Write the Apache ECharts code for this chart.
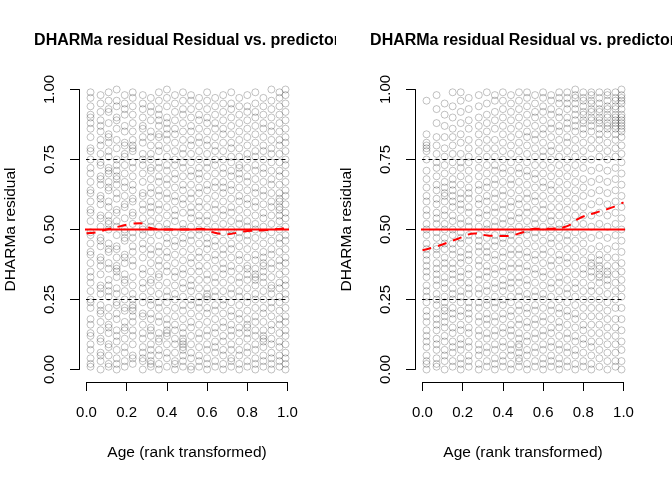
<!DOCTYPE html>
<html>
<head>
<meta charset="utf-8">
<script src="https://cdn.jsdelivr.net/npm/echarts@6/dist/echarts.min.js"></script>
<style>
  body { margin: 0; background: #fff; }
  #wrap { display: flex; width: 672px; height: 480px; }
  .panel { width: 336px; height: 480px; overflow: hidden; }
</style>
</head>
<body>
<div id="wrap"><div id="left" class="panel"></div><div id="right" class="panel"></div></div>
<script>
const titleText = 'DHARMa residual Residual vs. predictor';
const xName = 'Age (rank transformed)';
const yName = 'DHARMa residual';

// rank-transformed age values (columns of tied ranks)
const colX = [0.02, 0.07, 0.11, 0.15, 0.19, 0.23, 0.28, 0.32, 0.36, 0.40, 0.44, 0.48, 0.52,
  0.56, 0.60, 0.64, 0.68, 0.72, 0.76, 0.80, 0.84, 0.88, 0.92, 0.96, 0.99];

// residuals per column, in percent (left panel)
const leftResid = [
  [1,2,4,7,9,12,13,16,18,22,24,25,28,31,33,35,38,41,42,45,48,49,53,56,57,60,63,64,67,70,72,75,78,79,83,86,88,90,91,94,97,99],
  [0,3,5,6,10,11,14,17,20,21,23,27,29,30,34,37,39,40,44,46,47,51,54,55,59,61,62,66,68,69,73,74,77,80,82,85,87,89,92,95,98],
  [1,2,5,8,9,13,15,16,19,22,26,28,30,32,36,38,42,43,45,50,52,53,55,58,60,64,65,67,70,71,72,76,78,81,83,84,88,92,93,96,99],
  [0,2,4,7,10,12,14,18,20,23,24,27,29,33,35,36,37,40,43,44,48,51,53,56,57,61,63,66,68,69,71,73,75,79,82,86,89,90,94,96,100],
  [1,3,6,8,11,14,15,17,21,22,25,28,31,32,34,38,40,41,46,47,49,50,54,58,59,62,65,67,70,73,76,77,80,81,85,87,91,93,95,98],
  [2,4,5,9,12,14,17,19,21,22,23,25,27,30,33,37,39,42,44,47,49,52,55,56,60,61,64,66,69,72,74,78,79,80,82,85,88,91,94,97,99],
  [0,3,4,6,8,11,13,16,19,20,24,26,29,31,34,36,40,43,45,48,50,51,54,57,59,62,63,67,70,73,75,77,81,83,86,87,90,93,95,98],
  [1,2,3,5,7,9,12,14,15,18,20,23,25,28,31,32,35,38,41,43,46,49,51,53,56,58,60,63,65,68,71,72,75,77,80,83,85,89,92,94,97],
  [0,2,5,7,10,11,13,17,19,22,24,27,30,33,34,37,39,42,44,48,51,54,57,59,62,64,67,69,72,74,78,80,83,84,87,89,91,93,96,99],
  [1,4,6,9,12,13,14,16,18,21,24,26,28,31,35,37,40,42,45,47,50,52,55,58,61,63,66,68,71,73,76,79,82,84,86,88,90,94,97,100],
  [0,2,3,6,9,11,14,16,19,22,25,27,30,33,35,38,41,44,46,49,53,55,57,60,62,65,68,70,73,75,78,81,84,86,89,92,95,98],
  [1,3,5,7,8,9,10,11,13,15,18,21,23,26,29,31,34,36,39,42,45,47,50,52,56,59,61,64,66,69,72,74,77,79,82,85,88,91,93,96,99],
  [0,1,4,6,9,12,15,17,20,23,25,28,30,32,35,38,40,43,46,48,51,54,56,58,61,63,66,69,71,74,77,80,82,85,87,90,93,96,98],
  [1,3,5,8,11,13,16,19,22,24,26,29,32,35,37,40,42,45,48,50,53,55,58,60,63,65,68,70,72,75,78,81,83,86,89,91,94,97],
  [0,2,4,7,9,12,14,17,20,22,25,26,27,29,32,34,37,40,43,45,47,50,53,55,58,61,64,66,69,72,74,77,80,82,85,88,90,93,96,99],
  [1,3,6,8,10,13,15,18,21,23,26,28,31,33,36,39,41,44,46,49,51,54,57,59,62,65,67,70,73,75,78,80,83,86,88,91,94,97],
  [0,2,5,7,10,12,15,17,20,23,25,28,31,34,36,38,41,43,46,49,52,55,57,60,63,65,67,70,72,75,78,81,84,86,89,92,95,98],
  [1,3,4,7,9,12,14,16,19,21,24,27,29,32,35,37,40,43,45,48,50,53,56,58,61,64,66,69,71,74,76,79,81,84,87,90,93,95,99],
  [0,2,5,7,10,13,15,18,20,23,26,28,31,33,36,39,41,44,47,49,52,54,57,60,62,65,68,70,72,73,76,79,82,85,88,91,94,97],
  [1,3,6,8,11,13,15,16,18,21,24,26,29,32,34,36,37,40,43,46,48,51,53,56,59,61,64,67,69,72,75,77,80,83,86,89,92,94,98],
  [0,2,4,7,9,12,14,17,19,22,25,27,30,32,33,34,36,39,41,44,47,50,52,55,58,60,63,65,68,71,73,76,78,81,84,87,90,92,95,99],
  [1,3,5,8,10,11,12,14,17,20,22,25,28,31,33,35,37,38,40,42,45,48,51,54,56,59,62,64,67,70,72,75,78,80,83,86,88,91,94,97],
  [0,2,4,6,9,11,14,16,19,22,24,27,29,30,33,36,38,41,43,46,49,52,55,58,60,63,66,68,71,74,77,79,82,85,87,90,93,96,100],
  [1,3,5,8,10,13,16,18,21,24,26,29,31,34,37,39,42,45,47,50,53,55,57,58,60,61,63,66,69,71,74,77,80,82,85,88,91,94,97,99],
  [0,2,4,6,9,12,14,17,19,22,25,27,30,32,35,38,40,43,46,48,51,54,56,59,62,64,67,70,73,75,78,81,83,86,89,92,95,98,100]
];

// residuals per column, in percent (right panel)
const rightResid = [
  [0,2,3,5,8,10,12,14,17,19,21,24,26,28,30,33,35,37,39,41,43,45,48,50,52,55,57,60,62,65,68,71,75,78,79,80,81,84,96],
  [1,2,4,7,9,11,14,16,18,20,23,25,27,30,32,34,36,38,41,43,44,47,49,52,54,56,59,61,64,66,69,72,74,77,80,83,88,93,98],
  [0,3,5,7,10,12,15,17,19,21,22,24,26,29,31,33,36,38,40,43,45,47,50,52,55,57,60,62,63,65,67,70,73,76,79,83,87,91,95],
  [1,3,6,8,10,13,15,18,20,22,25,27,29,32,34,36,38,41,43,45,48,50,53,55,58,60,62,64,66,68,71,74,77,80,83,86,90,94,99],
  [0,2,4,7,9,11,14,16,19,21,24,26,28,31,33,35,38,40,42,45,47,49,52,54,57,59,61,63,66,69,72,74,77,81,84,88,92,96,99],
  [1,3,5,8,10,13,15,18,20,22,24,27,29,31,34,36,39,41,43,46,48,51,53,56,58,61,63,65,68,71,74,76,79,82,86,89,93,97],
  [0,2,5,7,9,12,14,17,19,22,24,27,29,32,34,37,39,42,44,46,48,51,54,56,59,61,64,66,69,72,75,78,81,84,87,90,94,98],
  [1,3,6,8,11,13,16,18,20,23,25,28,30,33,35,37,40,42,44,47,50,52,55,57,60,62,65,67,70,73,76,79,82,85,88,91,95,99],
  [0,2,4,7,9,12,14,17,19,22,24,26,29,31,34,36,39,41,44,46,48,51,53,56,58,61,63,66,68,71,73,76,79,82,86,89,92,96,98],
  [1,3,5,8,10,13,15,18,20,23,25,28,30,32,35,37,40,42,45,47,49,52,54,57,59,62,64,67,70,72,75,78,81,84,87,90,93,96,99],
  [0,2,5,7,9,12,14,16,19,21,24,26,29,31,33,36,38,41,43,46,48,50,53,55,58,60,63,66,68,71,74,77,80,83,86,89,92,95,98],
  [1,3,4,6,8,9,11,13,16,18,21,23,26,28,31,33,36,38,41,43,46,49,51,54,56,59,61,64,67,70,72,75,78,81,84,87,90,93,96,99],
  [0,2,5,7,10,12,15,17,20,22,25,27,30,32,35,37,40,42,45,48,50,53,56,58,61,63,66,69,71,74,77,80,83,85,88,91,94,97,99],
  [1,3,6,8,11,13,16,18,21,23,26,28,31,34,36,39,41,44,47,49,52,54,57,60,62,65,68,70,73,76,79,82,84,87,90,92,95,98],
  [0,2,4,7,9,12,14,17,19,22,25,27,30,33,35,38,41,43,46,49,51,54,57,59,62,65,67,70,73,76,78,81,84,86,89,92,94,97,99],
  [1,3,5,8,10,13,15,18,21,23,26,29,31,34,37,39,42,45,47,50,53,55,58,61,64,66,69,72,75,78,80,83,86,88,91,93,96,98],
  [0,2,4,7,9,12,15,17,20,22,25,28,31,33,36,39,41,44,47,50,52,55,58,61,64,67,70,73,76,79,82,85,87,90,92,95,97,99],
  [1,3,6,8,11,13,16,19,21,24,27,29,32,35,38,40,43,46,48,51,54,57,60,63,66,69,72,75,78,81,83,86,88,90,93,95,97,99],
  [0,2,5,7,10,12,15,18,20,23,26,29,31,34,37,40,43,46,49,52,55,58,61,64,67,70,73,76,79,82,85,87,89,91,93,95,97,98,100],
  [1,3,6,9,11,14,16,19,22,25,28,31,34,36,39,42,45,48,52,55,58,62,65,68,72,75,78,81,84,86,88,89,91,92,94,96,97,99],
  [0,2,5,8,10,13,16,19,22,25,28,30,33,35,37,38,40,43,47,51,55,59,63,67,71,75,79,82,85,87,89,90,92,93,95,96,98,99],
  [1,4,7,10,13,16,19,22,25,28,31,33,34,36,37,39,41,44,48,52,56,60,64,68,72,76,79,82,84,86,88,89,90,92,93,95,97,99],
  [0,3,6,9,12,15,18,21,24,27,30,32,34,35,37,40,43,47,51,55,59,63,67,71,75,78,81,84,86,87,88,90,91,93,94,96,98,99],
  [1,3,6,9,12,15,18,22,25,28,31,34,37,40,44,48,52,56,60,64,68,72,76,79,82,84,86,87,88,89,90,91,93,94,96,97,99],
  [0,3,7,10,14,18,22,26,29,32,35,38,42,46,50,54,58,62,66,70,74,77,80,83,85,86,87,88,89,90,91,93,95,96,97,98,100]
];

// fitted median (quantile 0.5) curves
const leftQx = [0, 0.05, 0.10, 0.17, 0.22, 0.27, 0.32, 0.40, 0.50, 0.57, 0.63, 0.70, 0.78, 0.88, 0.97, 1.0];
const leftQy = [0.487, 0.49, 0.50, 0.512, 0.52, 0.522, 0.505, 0.50, 0.50, 0.503, 0.49, 0.483, 0.493, 0.497, 0.503, 0.505];
const rightQx = [0, 0.08, 0.18, 0.26, 0.33, 0.42, 0.50, 0.56, 0.64, 0.72, 0.78, 0.86, 0.94, 1.0];
const rightQy = [0.426, 0.442, 0.468, 0.486, 0.478, 0.477, 0.49, 0.503, 0.503, 0.512, 0.54, 0.56, 0.578, 0.597];

const dashedLevels = [0.25, 0.75];
const medianLevel = 0.5;
const usrX = [-0.04, 1.04]; // plot region extent used by abline

const font = "'Liberation Sans', Arial, sans-serif";

function hline(y, color, width, type) {
  return {
    type: 'line', data: usrX.map(x => [x, y]), symbol: 'none', clip: false, silent: true,
    lineStyle: { color, width, type }, z: 3
  };
}

function panelOption(cols, qx, qy) {
  const pts = [];
  cols.forEach((ys, i) => ys.forEach(y => pts.push([colX[i], y / 100])));
  return {
    animation: false,
    title: {
      text: titleText, left: 187, top: 33, textAlign: 'center', padding: 0,
      textStyle: { fontFamily: font, fontSize: 16, fontWeight: 'bold', color: '#000' }
    },
    grid: { left: 86.5, right: 48.5, top: 89.5, bottom: 110.5, containLabel: false, outerBoundsMode: 'none' },
    xAxis: {
      type: 'value', min: 0, max: 1, interval: 0.2, offset: 12.5,
      name: xName, nameLocation: 'middle', nameGap: 63,
      nameTextStyle: { fontFamily: font, fontSize: 15.5, color: '#000' },
      axisLine: { show: true, onZero: false, lineStyle: { color: '#000', width: 1 } },
      axisTick: { show: true, length: 9, lineStyle: { color: '#000' } },
      axisLabel: { fontFamily: font, fontSize: 15, color: '#000', margin: 23, formatter: v => v.toFixed(1) },
      splitLine: { show: false }
    },
    yAxis: {
      type: 'value', min: 0, max: 1, interval: 0.25, offset: 7.5,
      name: yName, nameLocation: 'middle', nameGap: 60,
      nameTextStyle: { fontFamily: font, fontSize: 15.5, color: '#000' },
      axisLine: { show: true, onZero: false, lineStyle: { color: '#000', width: 1 } },
      axisTick: { show: true, length: 9, lineStyle: { color: '#000' } },
      axisLabel: { fontFamily: font, fontSize: 15, color: '#000', margin: 22, rotate: 90, formatter: v => v.toFixed(2) },
      splitLine: { show: false }
    },
    series: [
      {
        type: 'scatter', data: pts, symbol: 'circle', symbolSize: 7, clip: false, silent: true,
        itemStyle: { color: 'rgba(0,0,0,0)', borderColor: 'rgba(0,0,0,0.3)', borderWidth: 1 }, z: 2
      },
      ...dashedLevels.map(y => hline(y, '#000', 1, [4, 3])),
      hline(medianLevel, '#ff0000', 2, 'solid'),
      {
        type: 'line', data: qx.map((x, i) => [x, qy[i]]), smooth: 0.4, symbol: 'none', clip: false, silent: true,
        lineStyle: { color: '#ff0000', width: 2, type: [9, 7] }, z: 4
      }
    ]
  };
}

echarts.init(document.getElementById('left')).setOption(panelOption(leftResid, leftQx, leftQy));
echarts.init(document.getElementById('right')).setOption(panelOption(rightResid, rightQx, rightQy));
</script>
</body>
</html>
